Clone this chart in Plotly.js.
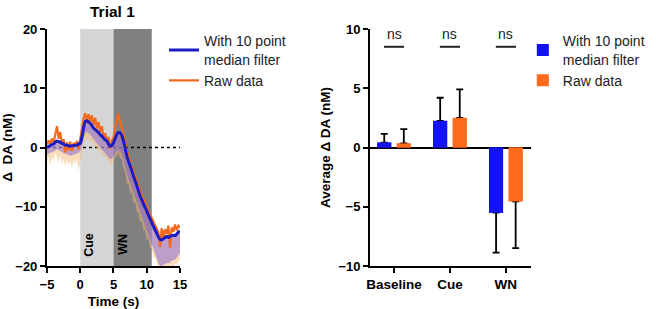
<!DOCTYPE html>
<html><head><meta charset="utf-8">
<script src="https://cdn.plot.ly/plotly-3.0.1.min.js"></script>
<style>html,body{margin:0;padding:0;background:#fff}#chart{width:656px;height:309px}</style>
</head><body><div id="chart"></div>
<script>
// ---- Trial 1 time course (s, nM) ----
const time = [-5,-4.75,-4.5,-4.25,-4,-3.75,-3.5,-3.25,-3,-2.75,-2.5,-2.25,-2,-1.75,-1.5,-1.25,-1,-0.75,-0.5,-0.25,
  0,0.25,0.5,0.75,1,1.25,1.5,1.75,2,2.25,2.5,2.75,3,3.25,3.5,3.75,4,4.25,4.5,4.75,
  5,5.25,5.5,5.75,6,6.25,6.5,6.75,7,7.25,7.5,7.75,8,8.25,8.5,8.75,9,9.25,9.5,9.75,
  10,10.25,10.5,10.75,11,11.25,11.5,11.75,12,12.25,12.5,12.75,13,13.25,13.5,13.75,14,14.25,14.5,14.75,15];
const filtered = [0.0,0.2,0.3,0.5,0.6,0.9,1.1,1.0,0.9,0.7,0.6,0.4,0.4,0.3,0.2,0.3,0.3,0.4,0.4,0.6,
  0.7,1.8,3.3,4.4,4.5,4.3,4.1,3.7,3.3,3.0,2.8,2.5,2.2,1.9,1.6,1.3,1.1,0.6,0.2,0.3,
  0.8,1.5,2.2,2.5,2.5,2.0,1.1,-0.1,-1.4,-2.3,-3.1,-3.9,-4.8,-5.6,-6.4,-7.3,-8.2,-8.8,-9.5,-10.1,
  -10.7,-11.4,-12.0,-12.7,-13.3,-13.9,-14.5,-15.1,-15.5,-15.6,-15.4,-15.2,-15.0,-15.2,-15.0,-14.9,-14.8,-14.9,-14.6,-14.3,-14.1];
const filteredLow = [-1.2,-1.0,-0.9,-0.8,-0.7,-0.5,-0.3,-0.4,-0.6,-0.8,-0.9,-1.1,-1.2,-1.3,-1.4,-1.3,-1.2,-1.1,-1.0,-0.9,
  -0.6,0.2,1.5,2.4,2.6,2.4,2.2,1.8,1.4,1.0,0.7,0.4,0.0,-0.3,-0.6,-0.9,-1.2,-1.6,-2.0,-1.9,
  -1.5,-1.0,-0.6,-0.4,-0.6,-1.2,-2.1,-3.3,-4.4,-5.2,-6.0,-6.8,-7.6,-8.4,-9.2,-10.1,-11.0,-11.7,-12.5,-13.2,
  -14.0,-14.8,-15.6,-16.4,-17.2,-18.0,-18.8,-19.5,-20.0,-20.0,-19.8,-19.6,-19.5,-19.6,-19.3,-19.1,-19.0,-19.0,-18.6,-18.2,-17.7];
const raw = [0.5,1.2,0.6,1.5,0.8,2.4,3.6,1.5,2.6,0.5,1.4,-0.8,0.9,-0.5,1.0,-0.6,0.8,0.2,1.1,-0.3,
  1.5,3.0,4.8,5.8,4.6,5.6,4.4,5.4,3.8,5.0,3.2,4.3,2.6,3.6,1.8,2.4,1.2,1.8,-0.2,1.2,
  1.6,3.5,4.8,5.8,4.2,3.4,2.0,1.0,-0.6,-1.6,-2.4,-3.3,-4.0,-4.9,-5.6,-6.6,-7.4,-8.1,-8.6,-9.5,
  -10.0,-10.7,-11.3,-12.0,-12.6,-13.3,-13.9,-14.3,-16.8,-13.6,-15.2,-13.8,-14.6,-13.2,-16.9,-13.5,-14.2,-13.0,-14.0,-13.2,-13.5];
const rawLow = [-2.5,-1.5,-3.0,-1.6,-2.2,-0.8,-1.5,-2.6,-1.2,-2.8,-1.8,-3.2,-2.0,-3.0,-2.2,-3.4,-2.0,-3.0,-1.8,-4.0,
  -2.6,-0.6,0.6,1.6,1.2,1.8,0.8,1.2,0.2,0.6,-0.6,0.0,-1.0,-0.6,-1.6,-1.2,-2.2,-2.0,-3.2,-2.6,
  -2.4,-1.6,-1.4,-1.0,-1.8,-2.0,-3.6,-4.2,-6.0,-6.2,-7.8,-7.6,-9.4,-9.2,-10.8,-11.0,-12.6,-12.4,-14.0,-14.0,
  -15.6,-15.4,-17.0,-17.0,-18.6,-18.4,-19.8,-20.5,-20.5,-20.5,-20.5,-20.5,-20.5,-20.5,-20.5,-19.8,-20.5,-19.6,-19.8,-19.2,-19.0];
const cueWindow = [0, 5];
const wnWindow = [5, 10.75];
const timeTicks = [-5, 0, 5, 10, 15];
const daTicks = [-20, -10, 0, 10, 20];

// ---- Average per epoch (nM) ----
const epochs = ['Baseline', 'Cue', 'WN'];
const barFiltered = [0.42, 2.25, -5.5];
const barFilteredErr = [0.73, 1.95, 3.37];
const barRaw = [0.35, 2.5, -4.55];
const barRawErr = [1.2, 2.4, 3.95];
const sigLabels = ['ns', 'ns', 'ns'];
const sigLevel = [8.5, 8.5, 8.5];
const avgTicks = [-10, -5, 0, 5, 10];

const FONT = 'Liberation Sans, Arial, Helvetica, sans-serif';
const BLUE_LINE = '#1c1cc4', ORANGE_LINE = '#f26a1b';
const BLUE_BAR = '#1212f2', ORANGE_BAR = '#ff6a1c';

const up = (v, e) => v.map((x, i) => x >= 0 ? e[i] : 0);
const dn = (v, e) => v.map((x, i) => x < 0 ? e[i] : 0);

const traces = [
  {x: time, y: rawLow, type: 'scatter', mode: 'lines', line: {width: 0}, showlegend: false, hoverinfo: 'skip'},
  {x: time, y: filtered, type: 'scatter', mode: 'lines', line: {width: 0}, fill: 'tonexty',
   fillcolor: 'rgba(246,186,120,0.5)', showlegend: false, hoverinfo: 'skip'},
  {x: time, y: filteredLow, type: 'scatter', mode: 'lines', line: {width: 0}, showlegend: false, hoverinfo: 'skip'},
  {x: time, y: filtered, type: 'scatter', mode: 'lines', line: {width: 0}, fill: 'tonexty',
   fillcolor: 'rgba(125,95,215,0.5)', showlegend: false, hoverinfo: 'skip'},
  {x: time, y: raw, type: 'scatter', mode: 'lines', name: 'Raw data',
   line: {color: ORANGE_LINE, width: 2.2}},
  {x: time, y: filtered, type: 'scatter', mode: 'lines', name: 'With 10 point<br>median filter',
   line: {color: BLUE_LINE, width: 3, shape: 'spline', smoothing: 0.6}},

  {x: epochs, y: barFiltered, type: 'bar', xaxis: 'x2', yaxis: 'y2', legend: 'legend2',
   name: 'With 10 point<br>median filter', width: 0.25, offset: -0.3,
   marker: {color: BLUE_BAR, line: {width: 0}},
   error_y: {type: 'data', symmetric: false, array: up(barFiltered, barFilteredErr),
             arrayminus: dn(barFiltered, barFilteredErr), color: '#000', thickness: 1.8, width: 3.5}},
  {x: epochs, y: barRaw, type: 'bar', xaxis: 'x2', yaxis: 'y2', legend: 'legend2',
   name: 'Raw data', width: 0.25, offset: 0.05,
   marker: {color: ORANGE_BAR, line: {width: 0}},
   error_y: {type: 'data', symmetric: false, array: up(barRaw, barRawErr),
             arrayminus: dn(barRaw, barRawErr), color: '#000', thickness: 1.8, width: 3.5}},
  {x: epochs, y: barFiltered, type: 'bar', xaxis: 'x2', yaxis: 'y2', showlegend: false, hoverinfo: 'skip',
   width: 0.25, offset: -0.3, marker: {color: BLUE_BAR, line: {width: 0}}},
  {x: epochs, y: barRaw, type: 'bar', xaxis: 'x2', yaxis: 'y2', showlegend: false, hoverinfo: 'skip',
   width: 0.25, offset: 0.05, marker: {color: ORANGE_BAR, line: {width: 0}}}
];

const axisCommon = {
  showgrid: false, zeroline: false, showline: true, linecolor: '#000', linewidth: 2,
  ticks: 'outside', ticklen: 5, tickwidth: 2, tickcolor: '#000',
  tickfont: {family: FONT, size: 13, color: '#000', weight: 'bold'}, automargin: false
};
const titleFont = {family: FONT, size: 13.5, color: '#000', weight: 'bold'};

const shapes = [
  {type: 'rect', xref: 'x', yref: 'y', x0: cueWindow[0], x1: cueWindow[1], y0: daTicks[0], y1: daTicks[4],
   fillcolor: '#d5d5d5', line: {width: 0}, layer: 'below'},
  {type: 'rect', xref: 'x', yref: 'y', x0: wnWindow[0], x1: wnWindow[1], y0: daTicks[0], y1: daTicks[4],
   fillcolor: '#808080', line: {width: 0}, layer: 'below'},
  {type: 'line', xref: 'x', yref: 'y', x0: timeTicks[0], x1: timeTicks[4], y0: 0, y1: 0,
   line: {color: '#000', width: 1.6, dash: 'dot'}, layer: 'below'}
];
epochs.forEach((e, i) => shapes.push({type: 'line', xref: 'x2', yref: 'y2', x0: i - 0.18, x1: i + 0.18,
  y0: sigLevel[i], y1: sigLevel[i], line: {color: '#222', width: 2}}));

const annotations = [
  {text: 'Trial 1', xref: 'paper', yref: 'paper', x: 0.172, y: 0.962, xanchor: 'center', yanchor: 'middle',
   showarrow: false, font: {family: FONT, size: 15.5, color: '#000', weight: 'bold'}},
  {text: 'Cue', xref: 'x', yref: 'y', x: 1.2, y: -16.4, textangle: -90, showarrow: false,
   font: {family: FONT, size: 12.5, color: '#000', weight: 'bold'}},
  {text: 'WN', xref: 'x', yref: 'y', x: 6.45, y: -16.4, textangle: -90, showarrow: false,
   font: {family: FONT, size: 12.5, color: '#000', weight: 'bold'}}
];
epochs.forEach((e, i) => annotations.push({text: sigLabels[i], xref: 'x2', yref: 'y2', x: i, y: sigLevel[i] + 1.1,
  showarrow: false, font: {family: FONT, size: 14, color: '#222'}}));

const layout = {
  width: 656, height: 309, margin: {l: 0, r: 0, t: 0, b: 0},
  paper_bgcolor: '#fff', plot_bgcolor: 'rgba(0,0,0,0)', showlegend: true,
  font: {family: FONT, color: '#000'},
  xaxis: Object.assign({}, axisCommon, {domain: [0.0716, 0.2744], range: [-5, 15], tickvals: timeTicks,
    anchor: 'y', title: {text: 'Time (s)', font: titleFont, standoff: 9}}),
  yaxis: Object.assign({}, axisCommon, {domain: [0.1392, 0.9061], range: [-20, 20], tickvals: daTicks,
    anchor: 'x', title: {text: 'Δ  DA (nM)', font: titleFont, standoff: 5}}),
  xaxis2: Object.assign({}, axisCommon, {domain: [0.564, 0.8095], range: [-0.43, 2.45], type: 'category',
    anchor: 'y2', tickfont: {family: FONT, size: 13.5, color: '#000', weight: 'bold'}}),
  yaxis2: Object.assign({}, axisCommon, {domain: [0.1392, 0.9061], range: [-10, 10], tickvals: avgTicks,
    anchor: 'x2', zeroline: true, zerolinecolor: '#000', zerolinewidth: 2,
    title: {text: 'Average Δ DA (nM)', font: titleFont, standoff: 5}}),
  barmode: 'overlay',
  legend: {x: 0.25, xanchor: 'left', y: 0.918, yanchor: 'top', bgcolor: 'rgba(0,0,0,0)', traceorder: 'reversed',
    font: {family: FONT, size: 14, color: '#222'}, tracegroupgap: 0, itemwidth: 30},
  legend2: {x: 0.797, xanchor: 'left', y: 0.918, yanchor: 'top', bgcolor: 'rgba(0,0,0,0)',
    font: {family: FONT, size: 14, color: '#222'}, tracegroupgap: 0, itemwidth: 30},
  shapes: shapes, annotations: annotations
};

Plotly.newPlot('chart', traces, layout, {displayModeBar: false, staticPlot: true});
</script></body></html>
